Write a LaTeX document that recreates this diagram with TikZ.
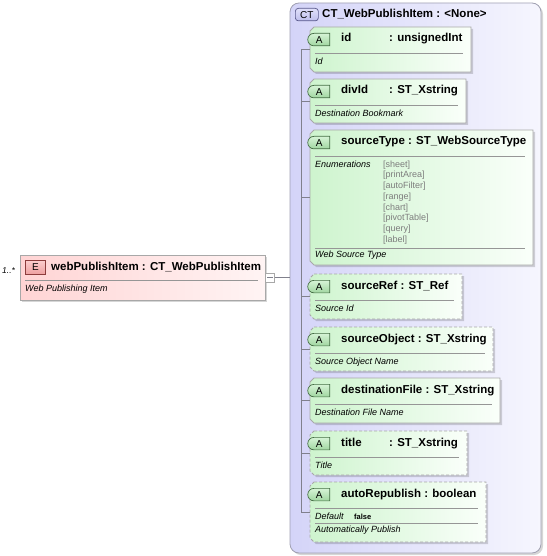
\documentclass[tikz,border=0pt]{standalone}
\usepackage{fontspec}
\setmainfont{Liberation Sans}
\usetikzlibrary{fit,shapes.misc}

\definecolor{ctL}{RGB}{212,212,248}
\definecolor{ctR}{RGB}{246,246,254}
\definecolor{ctborder}{RGB}{160,160,178}
\definecolor{grL}{RGB}{206,244,206}
\definecolor{grR}{RGB}{250,255,250}
\definecolor{pkL}{RGB}{255,212,212}
\definecolor{pkR}{RGB}{255,244,244}
\definecolor{boxborder}{RGB}{168,168,168}
\definecolor{sepc}{RGB}{150,150,150}
\definecolor{connc}{RGB}{128,128,140}
\definecolor{enumgray}{RGB}{125,125,125}
\definecolor{agT}{RGB}{214,244,214}
\definecolor{agB}{RGB}{160,214,160}
\definecolor{agD}{RGB}{70,110,70}
\definecolor{epT}{RGB}{252,205,205}
\definecolor{epB}{RGB}{238,160,160}
\definecolor{epD}{RGB}{140,60,60}
\definecolor{cbT}{RGB}{224,224,250}
\definecolor{cbB}{RGB}{190,190,236}
\definecolor{cbD}{RGB}{90,90,140}

\tikzset{
  shadowfill/.style={fill=black, opacity=0.16},
  attrfill/.style={left color=grL, right color=grR, draw=boxborder, line width=0.8pt},
  dashedbox/.style={dash pattern=on 3pt off 2pt},
  sepline/.style={draw=sepc, line width=0.7pt},
  conn/.style={draw=connc, line width=0.8pt},
  hdr/.style={font=\fontsize{11.5}{13}\selectfont\bfseries, anchor=base west, inner sep=0pt},
  desc/.style={font=\fontsize{9}{11}\selectfont\itshape, anchor=base west, inner sep=0pt},
  enumv/.style={font=\fontsize{9}{10}\selectfont, text=enumgray, anchor=base west, inner sep=0pt},
  abadge/.style={rounded rectangle, rounded rectangle right arc=none, top color=agT, bottom color=agB,
    draw=agD, line width=0.7pt, minimum width=22pt, minimum height=12.5pt, inner sep=0pt,
    font=\fontsize{10}{10}\selectfont, anchor=north west},
  ebadge/.style={rectangle, top color=epT, bottom color=epB, draw=epD, line width=0.7pt,
    minimum width=20pt, minimum height=14pt, inner sep=0pt, font=\fontsize{10}{10}\selectfont, anchor=north west},
  ctbadge/.style={rectangle, rounded corners=3pt, top color=cbT, bottom color=cbB, draw=cbD, line width=0.7pt,
    minimum width=23pt, minimum height=12.5pt, inner sep=0pt, font=\fontsize{10}{10}\selectfont, anchor=north west},
  minusbox/.style={rectangle, draw=boxborder, fill=white, line width=0.7pt, minimum size=9pt, inner sep=0pt},
}

% #1 name, #2 x1, #3 y1, #4 x2, #5 y2, #6 extra style
\newcommand\attrbox[6]{%
  \fill[shadowfill] (#2+6,#3+2) -- (#4+2,#3+2) -- (#4+2,#5+2) -- (#2+6,#5+2) -- (#2+2,#5-2) -- (#2+2,#3+6) -- cycle;
  \path[attrfill,#6] (#2+4,#3) -- (#4,#3) -- (#4,#5) -- (#2+4,#5) -- (#2,#5-4) -- (#2,#3+4) -- cycle;
  \node[fit={(#2,#3) (#4,#5)}, inner sep=0pt] (#1) {};
  \node[abadge] (#1-badge) at (#2+4,#3+6) {A};
  \draw[sepline] (#2+5,#3+26) -- (#4-8,#3+26);
}

\begin{document}
\begin{tikzpicture}[x=1pt, y=-1pt]
\useasboundingbox (0,0) rectangle (546,556);

% complex type container
\fill[shadowfill, rounded corners=9pt] (292,5) rectangle (543,555);
\path[left color=ctL, right color=ctR, draw=ctborder, line width=0.8pt, rounded corners=9pt] (290,3) rectangle (541,553);
\node[fit={(290,3) (541,553)}, inner sep=0pt] (ct) {};
\node[ctbadge] (ctbadge) at (295,8) {CT};
\node[hdr] (cttitle) at (322,18) {CT\_WebPublishItem : <None>};

% attribute boxes
\attrbox{id}{310}{27}{471}{72}{}
\attrbox{divId}{310}{79}{466}{123}{}
\attrbox{sourceType}{310}{130}{533}{265}{}
\attrbox{sourceRef}{310}{274}{462}{319}{dashedbox}
\attrbox{sourceObject}{310}{327}{493}{371}{dashedbox}
\attrbox{destinationFile}{310}{378}{500}{423}{}
\attrbox{title}{310}{431}{467}{475}{dashedbox}
\attrbox{autoRepublish}{310}{482}{486}{542}{dashedbox}

% texts in attribute boxes
\node[hdr] (id-n) at (341,42) {id};
\node[hdr] (id-t) at (389,42) {: unsignedInt};
\node[desc] (id-d) at (315,64.5) {Id};

\node[hdr] (divId-n) at (341,94) {divId};
\node[hdr] (divId-t) at (389,94) {: ST\_Xstring};
\node[desc] (divId-d) at (315,116.5) {Destination Bookmark};

\node[hdr] (sourceType-n) at (341,145) {sourceType : ST\_WebSourceType};
\node[desc] (enumlbl) at (315,167.5) {Enumerations};
\node[enumv] (e1) at (383,167.3) {[sheet]};
\node[enumv] (e2) at (383,178.0) {[printArea]};
\node[enumv] (e3) at (383,188.7) {[autoFilter]};
\node[enumv] (e4) at (383,199.4) {[range]};
\node[enumv] (e5) at (383,210.1) {[chart]};
\node[enumv] (e6) at (383,220.8) {[pivotTable]};
\node[enumv] (e7) at (383,231.5) {[query]};
\node[enumv] (e8) at (383,242.2) {[label]};
\draw[sepline] (315,248) -- (525,248);
\node[desc] (sourceType-d) at (315,257.5) {Web Source Type};

\node[hdr] (sourceRef-n) at (341,289) {sourceRef : ST\_Ref};
\node[desc] (sourceRef-d) at (315,311.5) {Source Id};

\node[hdr] (sourceObject-n) at (341,342) {sourceObject : ST\_Xstring};
\node[desc] (sourceObject-d) at (315,364.5) {Source Object Name};

\node[hdr] (destinationFile-n) at (341,393) {destinationFile : ST\_Xstring};
\node[desc] (destinationFile-d) at (315,415.5) {Destination File Name};

\node[hdr] (title-n) at (341,446) {title};
\node[hdr] (title-t) at (389,446) {: ST\_Xstring};
\node[desc] (title-d) at (315,468.5) {Title};

\node[hdr] (autoRepublish-n) at (341,497) {autoRepublish : boolean};
\node[desc] (deflbl) at (315,519.5) {Default};
\node[font=\fontsize{7.5}{9}\selectfont\bfseries, anchor=base west, inner sep=0pt] (defval) at (354,519) {false};
\draw[sepline] (315,523) -- (478,523);
\node[desc] (autoRepublish-d) at (315,532.5) {Automatically Publish};

% tree connectors
\coordinate (vx) at (301,0);
\draw[conn] (id.west -| vx) -- (autoRepublish.west -| vx);
\foreach \n in {id,divId,sourceType,sourceRef,sourceObject,destinationFile,title,autoRepublish}
  \draw[conn] (\n.west -| vx) -- (\n.west);

% element box
\fill[shadowfill] (22,257) rectangle (267,302);
\path[left color=pkL, right color=pkR, draw=boxborder, line width=0.8pt] (20,255) rectangle (265,300);
\node[fit={(20,255) (265,300)}, inner sep=0pt] (elem) {};
\node[ebadge] (ebadge) at (25,260) {E};
\node[hdr] (elem-n) at (51,270) {webPublishItem : CT\_WebPublishItem};
\draw[sepline] (25,280) -- (258,280);
\node[desc] (elem-d) at (25,291.5) {Web Publishing Item};
\node[font=\fontsize{8.5}{9}\selectfont\itshape, anchor=base west, inner sep=0pt] (mult) at (2,273) {1..*};

\node[minusbox] (minus) at (270,277.5) {};
\draw[draw=connc, line width=0.7pt] ([xshift=2pt]minus.west) -- ([xshift=-2pt]minus.east);
\draw[conn] (minus.east) -- (minus.east -| ct.west);
\end{tikzpicture}
\end{document}
